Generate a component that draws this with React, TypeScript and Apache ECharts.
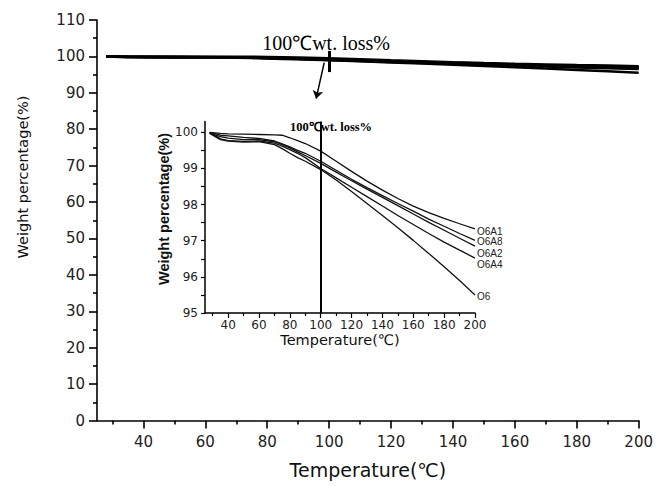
import React, { useEffect, useRef } from "react";
import * as echarts from "echarts";

// Temperature (°C)
const T = [28, 35, 40, 50, 60, 70, 75, 80, 85, 90, 100, 110, 120, 130, 140, 150, 160, 170, 180, 190, 200];
// Weight percentage (%)
const O6A1 = [100, 99.97, 99.96, 99.95, 99.94, 99.93, 99.92, 99.85, 99.77, 99.69, 99.48, 99.2, 98.92, 98.65, 98.4, 98.17, 97.96, 97.78, 97.62, 97.47, 97.33];
const O6A8 = [100, 99.92, 99.9, 99.86, 99.83, 99.76, 99.68, 99.6, 99.5, 99.42, 99.2, 98.95, 98.7, 98.47, 98.25, 98.03, 97.82, 97.6, 97.4, 97.2, 97.01];
const O6A2 = [99.98, 99.88, 99.84, 99.8, 99.8, 99.74, 99.66, 99.57, 99.46, 99.36, 99.14, 98.9, 98.66, 98.43, 98.2, 97.97, 97.74, 97.51, 97.29, 97.07, 96.85];
const O6A4 = [100, 99.82, 99.77, 99.75, 99.76, 99.7, 99.62, 99.52, 99.42, 99.3, 99.0, 98.74, 98.48, 98.22, 97.96, 97.7, 97.45, 97.2, 96.96, 96.74, 96.52];
const O6 = [99.97, 99.8, 99.76, 99.73, 99.74, 99.66, 99.55, 99.42, 99.3, 99.2, 98.97, 98.68, 98.36, 98.03, 97.7, 97.36, 97.01, 96.65, 96.28, 95.9, 95.5];

const SERIES_NAMES = ["O6A1", "O6A8", "O6A2", "O6A4", "O6"];
const SERIES_VALUES = [O6A1, O6A8, O6A2, O6A4, O6];
const END_LABEL_DY = [2.5, 1, 7, 6.5, 1.5];

const X_LABELS = [40, 60, 80, 100, 120, 140, 160, 180, 200];
const X_MINOR = [30, 50, 70, 90, 110, 130, 150, 170, 190];
const INSET_Y_LABELS = [95, 96, 97, 98, 99, 100];
const INSET_Y_TICKS = [95, 95.5, 96, 96.5, 97, 97.5, 98, 98.5, 99, 99.5, 100];

const ANNOTATION = "100℃wt. loss%";

const zip = (ys: number[]) => T.map((t, i) => [t, ys[i]]);

export default function App() {
  const ref = useRef<HTMLDivElement>(null);

  useEffect(() => {
    if (!ref.current) return;
    const chart = echarts.init(ref.current, undefined, { renderer: "svg" });
    const black = "#000";
    const sans = "DejaVu Sans";

    const mainSeries = SERIES_NAMES.map((name, i) => {
      const s: any = {
        name,
        type: "line",
        xAxisIndex: 0,
        yAxisIndex: 0,
        data: zip(SERIES_VALUES[i]),
        showSymbol: false,
        symbol: "none",
        silent: true,
        lineStyle: { color: black, width: 2.5 },
      };
      if (i === 0) {
        s.markLine = {
          silent: true,
          symbol: ["none", "none"],
          label: { show: false },
          lineStyle: { color: black, type: "solid", width: 3 },
          data: [
            [{ coord: [100, 101.5] }, { coord: [100, 95.7] }],
            [
              { coord: [98.4, 98.3], symbol: "none", lineStyle: { width: 1.5, type: "solid", color: black } },
              { coord: [95.8, 88.4], symbol: "arrow", symbolSize: 8 },
            ],
          ],
        };
        s.markPoint = {
          silent: true,
          symbol: "circle",
          symbolSize: 1,
          itemStyle: { color: "rgba(0,0,0,0)" },
          data: [
            {
              coord: [99, 103.8],
              label: {
                show: true,
                position: "inside",
                formatter: ANNOTATION,
                fontFamily: "Liberation Serif",
                fontSize: 20,
                color: black,
              },
            },
          ],
        };
      }
      return s;
    });

    const insetSeries = SERIES_NAMES.map((name, i) => {
      const s: any = {
        name,
        type: "line",
        xAxisIndex: 2,
        yAxisIndex: 1,
        data: zip(SERIES_VALUES[i]),
        showSymbol: false,
        symbol: "none",
        silent: true,
        lineStyle: { color: "#111", width: 1.3 },
        endLabel: {
          show: true,
          formatter: name,
          fontFamily: "Liberation Sans",
          fontSize: 10,
          color: "#222",
          distance: 2,
          offset: [0, END_LABEL_DY[i]],
        },
      };
      if (i === 0) {
        s.markLine = {
          silent: true,
          symbol: ["none", "none"],
          label: { show: false },
          lineStyle: { color: black, type: "solid", width: 2 },
          data: [{ xAxis: 100 }],
        };
        s.markPoint = {
          silent: true,
          symbol: "circle",
          symbolSize: 1,
          itemStyle: { color: "rgba(0,0,0,0)" },
          data: [
            {
              coord: [106.7, 100.16],
              label: {
                show: true,
                position: "inside",
                formatter: ANNOTATION,
                fontFamily: "Liberation Serif",
                fontWeight: "bold",
                fontSize: 12.5,
                color: black,
              },
            },
          ],
        };
      }
      return s;
    });

    const axisLine = { show: true, onZero: false, lineStyle: { color: black, width: 1.6 } };

    const option: any = {
      animation: false,
      backgroundColor: "#fff",
      grid: [
        { left: 97, top: 20, width: 542, height: 400.5 },
        { left: 205, top: 121.5, width: 270, height: 191.5 },
      ],
      xAxis: [
        {
          type: "value",
          gridIndex: 0,
          position: "bottom",
          min: 25,
          max: 200,
          axisLine,
          splitLine: { show: false },
          axisTick: { show: true, inside: false, length: 8, customValues: X_LABELS, lineStyle: { color: black, width: 1.6 } },
          axisLabel: { show: true, customValues: X_LABELS, margin: 14, fontFamily: sans, fontSize: 15, color: "#222" },
          name: "Temperature(℃)",
          nameLocation: "middle",
          nameGap: 40,
          nameTextStyle: { fontFamily: sans, fontSize: 19, color: "#111" },
        },
        {
          type: "value",
          gridIndex: 0,
          position: "bottom",
          min: 25,
          max: 200,
          axisLine: { show: false, onZero: false },
          splitLine: { show: false },
          axisTick: { show: true, inside: false, length: 4, customValues: X_MINOR, lineStyle: { color: black, width: 1.6 } },
          axisLabel: { show: false },
        },
        {
          type: "value",
          gridIndex: 1,
          position: "bottom",
          min: 25,
          max: 200,
          axisLine: { show: true, onZero: false, lineStyle: { color: black, width: 1.5 } },
          splitLine: { show: false },
          axisTick: { show: true, inside: false, length: 5, customValues: X_LABELS, lineStyle: { color: black, width: 1.2 } },
          axisLabel: { show: true, customValues: X_LABELS, margin: 6, fontFamily: sans, fontSize: 12, color: "#222" },
          name: "Temperature(℃)",
          nameLocation: "middle",
          nameGap: 19,
          nameTextStyle: { fontFamily: sans, fontSize: 14.5, color: "#111" },
        },
        {
          type: "value",
          gridIndex: 1,
          position: "bottom",
          min: 25,
          max: 200,
          axisLine: { show: false, onZero: false },
          splitLine: { show: false },
          axisTick: { show: true, inside: false, length: 3, customValues: X_MINOR, lineStyle: { color: black, width: 1.2 } },
          axisLabel: { show: false },
        },
      ],
      yAxis: [
        {
          type: "value",
          gridIndex: 0,
          position: "left",
          min: 0,
          max: 110,
          interval: 10,
          axisLine,
          splitLine: { show: false },
          axisTick: { show: true, inside: false, length: 8, lineStyle: { color: black, width: 1.6 } },
          minorTick: { show: true, splitNumber: 2, length: 4, lineStyle: { color: black, width: 1.6 } },
          minorSplitLine: { show: false },
          axisLabel: { margin: 12, fontFamily: sans, fontSize: 15, color: "#222" },
        },
        {
          type: "value",
          gridIndex: 1,
          position: "left",
          min: 95,
          max: 100.3,
          axisLine: { show: true, onZero: false, lineStyle: { color: black, width: 1.5 } },
          splitLine: { show: false },
          axisTick: { show: true, inside: false, length: 4, customValues: INSET_Y_TICKS, lineStyle: { color: black, width: 1.2 } },
          axisLabel: { show: true, customValues: INSET_Y_LABELS, margin: 7, fontFamily: sans, fontSize: 12, color: "#222" },
        },
      ],
      graphic: [
        {
          type: "text",
          x: 23,
          y: 177,
          rotation: Math.PI / 2,
          silent: true,
          style: {
            text: "Weight percentage(%)",
            fontFamily: "DejaVu Sans",
            fontSize: 14.5,
            fill: "#111",
            align: "center",
            verticalAlign: "middle",
            textAlign: "center",
            textVerticalAlign: "middle",
          },
        },
        {
          type: "text",
          x: 164,
          y: 209,
          rotation: Math.PI / 2,
          silent: true,
          style: {
            text: "Weight percentage(%)",
            fontFamily: "Liberation Sans",
            fontWeight: "bold",
            fontSize: 14.5,
            fill: "#111",
            align: "center",
            verticalAlign: "middle",
            textAlign: "center",
            textVerticalAlign: "middle",
          },
        },
      ],
      series: [...mainSeries, ...insetSeries],
    };

    chart.setOption(option);
    return () => chart.dispose();
  }, []);

  return (
    <div
      ref={ref}
      style={{ position: "fixed", left: 0, top: 0, width: 656, height: 486, background: "#fff" }}
    />
  );
}
